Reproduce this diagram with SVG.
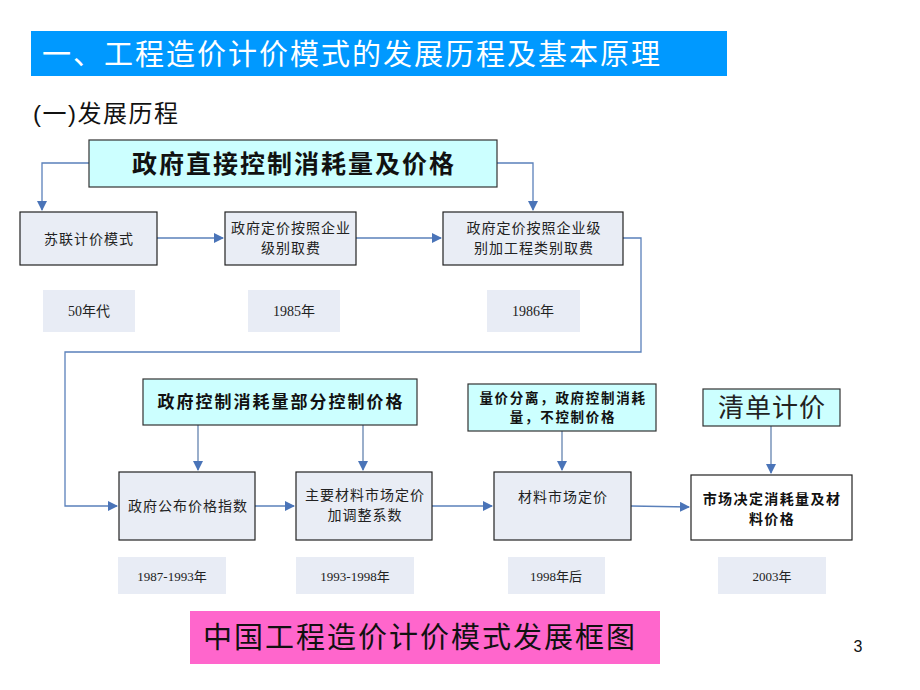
<svg xmlns="http://www.w3.org/2000/svg" width="920" height="690" viewBox="0 0 920 690">
<style>
.t{font-family:"Liberation Serif","Noto Sans CJK SC",serif;fill:#222;text-anchor:middle;letter-spacing:1px}
.b{fill:#E9EDF5;stroke:#222;stroke-width:1.2}
.c{fill:#CCFFFF;stroke:#333;stroke-width:1.2}
.y{fill:#E8ECF5}
.yt{font-family:"Liberation Serif","Noto Sans CJK SC",serif;fill:#222;text-anchor:middle}
.bt{font-family:"Liberation Serif","Noto Sans CJK SC",serif;font-weight:bold;fill:#111;text-anchor:middle}
.ln{fill:none;stroke:#5A80BA;stroke-width:1.3}
.lv{fill:none;stroke:#8FA6C6;stroke-width:1.8}
</style>
<defs>
<marker id="ah" markerWidth="10" markerHeight="10" refX="9" refY="5" orient="auto" markerUnits="userSpaceOnUse">
<path d="M0,0 L10,5 L0,10 z" fill="#4A74B8"/>
</marker>
</defs>
<rect width="920" height="690" fill="#fff"/>
<g id="title">
<rect x="31" y="31" width="696" height="45" fill="#0099FF"/>
<text x="42" y="65" font-family="Liberation Sans,Noto Sans CJK SC,sans-serif" font-size="29" letter-spacing="2" fill="#fff">一、工程造价计价模式的发展历程及基本原理</text>
</g>
<text x="33" y="122" font-family="Liberation Sans,Noto Sans CJK SC,sans-serif" font-size="24" letter-spacing="1.5" fill="#111">(一)发展历程</text>

<g id="connectors">
<path class="ln" d="M89,163 H42 V210" marker-end="url(#ah)"/>
<path class="ln" d="M497,163 H533 V210" marker-end="url(#ah)"/>
<path class="ln" d="M157,238 H223" marker-end="url(#ah)"/>
<path class="ln" d="M356,238 H441" marker-end="url(#ah)"/>
<path class="ln" d="M623,238 H641 V352 H65 V506 H117" marker-end="url(#ah)"/>
<path class="lv" d="M198,425 V470" marker-end="url(#ah)"/>
<path class="lv" d="M363,425 V470" marker-end="url(#ah)"/>
<path class="lv" d="M562,431 V470" marker-end="url(#ah)"/>
<path class="lv" d="M771,426 V473" marker-end="url(#ah)"/>
<path class="ln" d="M255,506 H294" marker-end="url(#ah)"/>
<path class="ln" d="M432,506 H492" marker-end="url(#ah)"/>
<path class="ln" d="M631,506 L689,507" marker-end="url(#ah)"/>
</g>

<g id="n-top">
<rect class="c" x="89" y="140" width="408" height="47"/>
<text class="bt" x="294" y="173" font-size="25" letter-spacing="2">政府直接控制消耗量及价格</text>
</g>
<g id="n-sulian">
<rect class="b" x="20" y="212" width="137" height="53"/>
<text class="t" x="89" y="244" font-size="14">苏联计价模式</text>
</g>
<g id="n-1985box">
<rect class="b" x="225" y="212" width="131" height="53"/>
<text class="t" x="291" y="233" font-size="14">政府定价按照企业</text>
<text class="t" x="291" y="253" font-size="14">级别取费</text>
</g>
<g id="n-1986box">
<rect class="b" x="443" y="212" width="180" height="53"/>
<text class="t" x="534" y="233" font-size="14">政府定价按照企业级</text>
<text class="t" x="534" y="253" font-size="14">别加工程类别取费</text>
</g>
<g id="y-50">
<rect class="y" x="43" y="290" width="92" height="42"/>
<text class="yt" x="89" y="316" font-size="14">50年代</text>
</g>
<g id="y-1985">
<rect class="y" x="248" y="290" width="92" height="42"/>
<text class="yt" x="294" y="316" font-size="14">1985年</text>
</g>
<g id="y-1986">
<rect class="y" x="487" y="290" width="93" height="42"/>
<text class="yt" x="533" y="316" font-size="14">1986年</text>
</g>

<g id="n-partial">
<rect class="c" x="143" y="379" width="274" height="46"/>
<text class="bt" x="281" y="408" font-size="17" letter-spacing="2">政府控制消耗量部分控制价格</text>
</g>
<g id="n-separate">
<rect class="c" x="468" y="384" width="188" height="47"/>
<text class="bt" x="563" y="403" font-size="13.5" letter-spacing="1.7">量价分离，政府控制消耗</text>
<text class="bt" x="563" y="422" font-size="13.5" letter-spacing="1.7">量，不控制价格</text>
</g>
<g id="n-qingdan">
<rect class="c" x="703" y="389" width="137" height="37"/>
<text class="t" x="772" y="417" font-size="26" letter-spacing="1.5" fill="#111">清单计价</text>
</g>
<g id="n-index">
<rect class="b" x="119" y="472" width="136" height="68"/>
<text class="t" x="188" y="511" font-size="14">政府公布价格指数</text>
</g>
<g id="n-main">
<rect class="b" x="296" y="472" width="136" height="68"/>
<text class="t" x="365" y="500" font-size="14">主要材料市场定价</text>
<text class="t" x="365" y="520" font-size="14">加调整系数</text>
</g>
<g id="n-material">
<rect class="b" x="494" y="472" width="137" height="68"/>
<text class="t" x="563" y="502" font-size="14" fill="#555">材料市场定价</text>
</g>
<g id="n-market">
<rect x="691" y="475" width="161" height="65" fill="#fff" stroke="#222" stroke-width="1.2"/>
<text class="bt" x="772" y="504" font-size="14" letter-spacing="1.4">市场决定消耗量及材</text>
<text class="bt" x="772" y="524" font-size="14" letter-spacing="1.4">料价格</text>
</g>
<g id="y-8793">
<rect class="y" x="118" y="557" width="108" height="37"/>
<text class="yt" x="172" y="581" font-size="13">1987-1993年</text>
</g>
<g id="y-9398">
<rect class="y" x="296" y="557" width="118" height="37"/>
<text class="yt" x="355" y="581" font-size="13">1993-1998年</text>
</g>
<g id="y-1998">
<rect class="y" x="508" y="557" width="97" height="37"/>
<text class="yt" x="556" y="581" font-size="13">1998年后</text>
</g>
<g id="y-2003">
<rect class="y" x="718" y="557" width="108" height="37"/>
<text class="yt" x="772" y="581" font-size="13">2003年</text>
</g>
<g id="caption">
<rect x="190" y="611" width="470" height="53" fill="#FF66CC"/>
<text x="420" y="648" font-family="Liberation Sans,Noto Sans CJK SC,sans-serif" font-size="29" letter-spacing="2" fill="#111" text-anchor="middle">中国工程造价计价模式发展框图</text>
</g>
<text x="858" y="652" font-family="Liberation Sans,Arial,sans-serif" font-size="16" fill="#111" text-anchor="middle">3</text>
</svg>
